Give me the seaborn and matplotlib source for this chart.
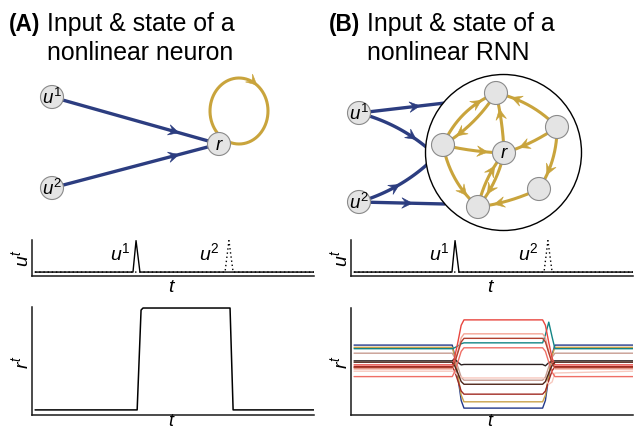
import numpy as np
import pandas as pd
import matplotlib
matplotlib.use("Agg")
import matplotlib.pyplot as plt
import seaborn as sns
from matplotlib.patches import Circle, Polygon

# ---------------- data ----------------
# input pulses (time in arbitrary units 0..100)
t_u1 = [0, 35.1, 36.2, 37.6, 100]
u1_vals = [0, 0, 1, 0, 0]
t_u2 = [0, 68.1, 69.5, 71.0, 100]
u2_vals = [0, 0, 1, 0, 0]

# single nonlinear neuron state
t_neuron = [0, 36.6, 38.0, 38.7, 69.9, 71.0, 100]
r_neuron = [0, 0, 0.98, 1.0, 1.0, 0.0, 0.0]

# RNN unit states
t_rnn = [0, 35.2, 36.0, 37.2, 38.4, 39.4, 67.6, 68.6, 69.8, 71.0, 72.0, 100]
r_blue = [.42, .42, .21, -.28, -.81, -.98, -.98, -.81, -.28, .21, .42, .42]
r_gold = [.37, .37, .19, -.24, -.69, -.84, -.84, -.69, -.24, .19, .37, .37]
r_teal = [.34, .34, .36, .40, .45, .47, .47, .65, .93, .60, .34, .34]
r_rosy = [.24, .24, .15, -.06, -.29, -.36, -.36, -.29, -.06, .15, .24, .24]
r_black = [.07, .07, .12, .04, -.02, -.01, -.01, -.04, .03, .06, .07, .07]
r_red = [-.02, -.02, .13, .48, .86, .98, .98, .86, .48, .13, -.02, -.02]
r_darkred = [-.06, -.06, -.15, -.37, -.60, -.67, -.67, -.60, -.37, -.15, -.06, -.06]
r_lightsalmon = [-.11, -.11, .01, .28, .58, .67, .67, .58, .28, .01, -.11, -.11]
r_palepink = [-.16, -.16, -.18, -.24, -.29, -.31, -.31, -.33, -.45, -.40, -.20, -.16]
r_salmon = [-.28, -.28, -.18, .04, .28, .36, .36, .28, .04, -.18, -.28, -.28]
r_darkbrown = [.04, .04, -.03, -.20, -.39, -.45, -.45, -.39, -.20, -.03, .04, .04]
r_brownred = [-.08, -.08, .02, .25, .49, .57, .57, .49, .25, .02, -.08, -.08]

rnn_names = ["blue", "gold", "teal", "rosy", "black", "red", "darkred",
             "lightsalmon", "palepink", "salmon", "darkbrown", "brownred"]
rnn_series = [r_blue, r_gold, r_teal, r_rosy, r_black, r_red, r_darkred,
              r_lightsalmon, r_palepink, r_salmon, r_darkbrown, r_brownred]
rnn_colors = ["#23398a", "#c9a24a", "#138585", "#c79d92", "#2a2020", "#e8453e",
              "#a02a22", "#f4a595", "#f7c9bf", "#ef6f66", "#4e2418", "#b0402f"]

# network diagram (pixel coordinates)
nodeA = {"u1": (52, 97), "u2": (52, 188), "r": (219, 144)}
nodeB = {"u1": (359, 113), "u2": (359, 202), "top": (496, 93), "right": (557, 127),
         "left": (443, 145), "r": (504, 153), "br": (539, 189), "bot": (478, 207)}
gold_edges = [("left", "top", -0.2), ("top", "left", -0.12), ("right", "top", 0.15),
              ("r", "top", 0.05), ("right", "r", -0.08), ("left", "r", 0.05),
              ("right", "br", -0.15), ("br", "bot", -0.08), ("left", "bot", 0.17),
              ("bot", "r", -0.12), ("r", "bot", -0.12)]
# (start, end, bend, head position fraction)
blue_edges_B = [((359, 113), (445, 103), 0.0, 0.72),
                ((359, 113), (432, 152), -0.12, 0.76),
                ((359, 202), (432, 160), 0.12, 0.52),
                ((359, 202), (445, 204), 0.0, 0.63)]

# ---------------- style ----------------
sns.set_style("white")
plt.rcParams["font.family"] = ["Liberation Sans", "DejaVu Sans"]
plt.rcParams["text.color"] = "black"
plt.rcParams["mathtext.fontset"] = "custom"
plt.rcParams["mathtext.it"] = "Liberation Sans:italic"
plt.rcParams["mathtext.rm"] = "Liberation Sans"
plt.rcParams["mathtext.bf"] = "Liberation Sans:bold"

BLUE = "#2c3d80"
GOLD = "#c9a43c"
NODE_FC = "#e4e4e4"
NODE_EC = "#8a8a8a"
R = 11.5
W, H = 634, 430
LBL = 14
TFS = 17.9

fig = plt.figure(figsize=(W / 100, H / 100), dpi=100)
ov = fig.add_axes([0, 0, 1, 1], zorder=0)
ov.set_xlim(0, W)
ov.set_ylim(H, 0)
ov.axis("off")


def qbez(p0, p2, bend, n=80):
    p0 = np.array(p0, float)
    p2 = np.array(p2, float)
    d = p2 - p0
    L = np.hypot(*d)
    nrm = np.array([-d[1], d[0]]) / L
    c = (p0 + p2) / 2 + bend * L * nrm
    s = np.linspace(0, 1, n)[:, None]
    return (1 - s) ** 2 * p0 + 2 * (1 - s) * s * c + s ** 2 * p2


def head(tip, direc, color, L=10.5, Wd=5.3, z=3):
    direc = np.asarray(direc, float)
    d = direc / np.hypot(*direc)
    n = np.array([-d[1], d[0]])
    tip = np.asarray(tip, float)
    pts = [tip, tip - L * d + Wd * n, tip - 0.6 * L * d, tip - L * d - Wd * n]
    ov.add_patch(Polygon(pts, closed=True, fc=color, ec=color, lw=0.4, zorder=z))


def node(p, label=None, z=5):
    ov.add_patch(Circle(p, R, fc=NODE_FC, ec=NODE_EC, lw=0.8, zorder=z))
    if label:
        ov.text(p[0], p[1] + 1, label, fontsize=13.5, ha="center", va="center", zorder=z + 1)


# titles
for x0, lab, l2 in [(10, "(A)", "nonlinear neuron"), (330, "(B)", "nonlinear RNN")]:
    ov.text(x0 - 1, 31, lab, fontsize=16.3, fontweight="bold", va="baseline")
    ov.text(x0 + 37, 31, "Input & state of a", fontsize=TFS, va="baseline")
    ov.text(x0 + 37, 60, l2, fontsize=TFS, va="baseline")

# ---- panel A network ----
for k in ["u1", "u2"]:
    p0 = np.array(nodeA[k], float)
    p1 = np.array(nodeA["r"], float)
    ov.plot([p0[0], p1[0]], [p0[1], p1[1]], color=BLUE, lw=2.4, zorder=2,
            solid_capstyle="butt")
    tip = p0 + 0.76 * (p1 - p0)
    head(tip, p1 - p0, BLUE, z=2)

cx, cy, rx, ry = 239, 111, 29, 33
th = np.deg2rad(np.linspace(138, 472, 200))
ov.plot(cx + rx * np.cos(th), cy + ry * np.sin(th), color=GOLD, lw=2.2, zorder=3)
tha = np.deg2rad(308)
tip = (cx + rx * np.cos(tha), cy + ry * np.sin(tha))
head(tip, (-rx * np.sin(tha), ry * np.cos(tha)), GOLD)

node(nodeA["u1"], r"$u^1$")
node(nodeA["u2"], r"$u^2$")
node(nodeA["r"], r"$r$")

# ---- panel B network ----
for p0, p2, bend, frac in blue_edges_B:
    pts = qbez(p0, p2, bend)
    ov.plot(pts[:, 0], pts[:, 1], color=BLUE, lw=2.4, zorder=1, solid_capstyle="butt")
    i = int(frac * (len(pts) - 1))
    head(pts[i], pts[i + 1] - pts[i - 1], BLUE, z=1)

ov.add_patch(Circle((503.5, 152.5), 78, fc="white", ec="black", lw=1.0, zorder=2))

for s, d, bend in gold_edges:
    pts = qbez(nodeB[s], nodeB[d], bend, n=200)
    dist = np.hypot(*(pts - np.array(nodeB[d])).T)
    k = np.argmax(dist < R + 5)
    ov.plot(pts[:, 0], pts[:, 1], color=GOLD, lw=2.2, zorder=3)
    head(pts[k], pts[k] - pts[k - 4], GOLD, z=3)

node(nodeB["u1"], r"$u^1$")
node(nodeB["u2"], r"$u^2$")
for k in ["top", "right", "left", "br", "bot"]:
    node(nodeB[k])
node(nodeB["r"], r"$r$")

# axis labels (placed in pixel coordinates)
for xo in [0, 319]:
    ov.text(21 + xo, 258, r"$u^t$", fontsize=LBL, rotation=90, ha="center", va="center")
    ov.text(21 + xo, 362, r"$r^t$", fontsize=LBL, rotation=90, ha="center", va="center")
    ov.text(172 + xo, 287, r"$t$", fontsize=LBL, ha="center", va="center")
    ov.text(172 + xo, 426.5, r"$t$", fontsize=13, ha="center", va="baseline")


# ---------------- time series axes ----------------
def px_axes(left, right, top, bottom):
    ax = fig.add_axes([left / W, (H - bottom) / H, (right - left) / W, (bottom - top) / H],
                      zorder=2)
    ax.set_facecolor("none")
    sns.despine(ax=ax)
    for sp in ["left", "bottom"]:
        ax.spines[sp].set_color("#1a1a1a")
        ax.spines[sp].set_linewidth(1.1)
    ax.set_xticks([])
    ax.set_yticks([])
    ax.set_xlim(-1.1, 100)
    return ax


def input_panel(ax):
    sns.lineplot(x=t_u1, y=u1_vals, ax=ax, color="black", lw=1.0, estimator=None, sort=False)
    sns.lineplot(x=t_u2, y=u2_vals, ax=ax, color="black", lw=1.0, estimator=None, sort=False,
                 linestyle=(0, (1, 2)))
    ax.set_ylim(-0.125, 1.02)
    ax.text(34.4, 0.375, r"$u^1$", fontsize=LBL, ha="right", va="baseline")
    ax.text(66.0, 0.375, r"$u^2$", fontsize=LBL, ha="right", va="baseline")
    ax.set_xlabel("")
    ax.set_ylabel("")


axAu = px_axes(32, 314, 240, 276)
input_panel(axAu)
axBu = px_axes(351, 633, 240, 276)
input_panel(axBu)

axAr = px_axes(32, 314, 307, 415)
sns.lineplot(x=t_neuron, y=r_neuron, ax=axAr, color="black", lw=1.1, estimator=None, sort=False)
axAr.set_ylim(-0.05, 1.01)
axAr.set_xlabel("")
axAr.set_ylabel("")

axBr = px_axes(351, 633, 308, 415)
df = pd.DataFrame({
    "t": t_rnn * len(rnn_names),
    "r": np.concatenate(rnn_series),
    "unit": np.repeat(rnn_names, len(t_rnn)),
})
sns.lineplot(data=df, x="t", y="r", hue="unit", hue_order=rnn_names,
             palette=dict(zip(rnn_names, rnn_colors)), estimator=None, sort=False,
             legend=False, lw=1.0, ax=axBr)
axBr.set_ylim(-1.133, 1.244)
axBr.set_xlabel("")
axBr.set_ylabel("")

fig.savefig("out.png", dpi=100)
